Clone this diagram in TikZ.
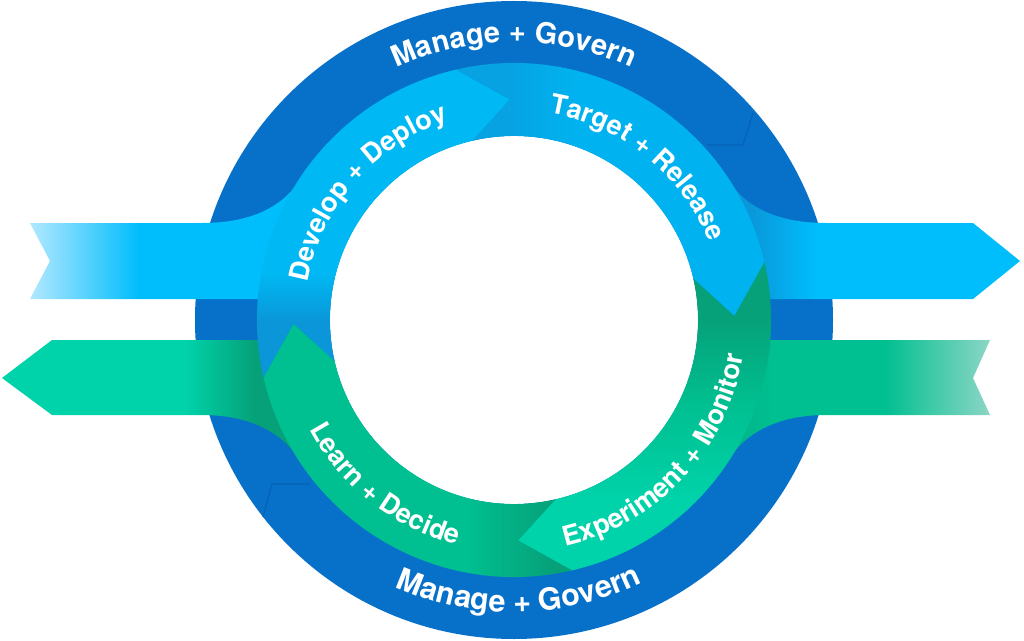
\documentclass[tikz,border=0pt]{standalone}
\usepackage{fontspec}
\setmainfont{TeX Gyre Heros}
\usetikzlibrary{decorations.text}
\definecolor{RingBlue}{HTML}{0771CA}
\definecolor{GhostBlue}{HTML}{0562B4}
\definecolor{CyanBright}{HTML}{00BDFC}
\definecolor{CyanPale}{HTML}{B2E8FF}
\definecolor{CyanBand}{HTML}{00B8F3}
\definecolor{CyanDeep}{HTML}{0A96D8}
\definecolor{TargetCyan}{HTML}{00B3F0}
\definecolor{TargetDark}{HTML}{07A2E2}
\definecolor{TealBright}{HTML}{00D3AA}
\definecolor{GreenMid}{HTML}{00BF90}
\definecolor{GreenRib}{HTML}{03AE84}
\definecolor{GreenDark}{HTML}{06A179}
\definecolor{GreenPale}{HTML}{8BD6C5}
% ribbon shadings (bounding box = 25bp..75bp)
\pgfdeclarehorizontalshading{inCyan}{100bp}{color(0bp)=(CyanPale); color(25bp)=(CyanPale); color(44bp)=(CyanBright); color(100bp)=(CyanBright)}
\pgfdeclarehorizontalshading{outCyan}{100bp}{color(0bp)=(CyanDeep); color(31bp)=(CyanDeep); color(42bp)=(CyanBright); color(100bp)=(CyanBright)}
\pgfdeclarehorizontalshading{outGreen}{100bp}{color(0bp)=(TealBright); color(54bp)=(TealBright); color(65bp)=(GreenDark); color(100bp)=(GreenDark)}
\pgfdeclarehorizontalshading{inGreen}{100bp}{color(0bp)=(GreenRib); color(25bp)=(GreenRib); color(36bp)=(GreenMid); color(56bp)=(GreenMid); color(75bp)=(GreenPale); color(100bp)=(GreenPale)}
% band shadings
\pgfdeclareverticalshading{developShade}{100bp}{color(0bp)=(CyanDeep); color(34bp)=(CyanDeep); color(42bp)=(CyanBand); color(100bp)=(CyanBand)}
\pgfdeclarehorizontalshading{targetShade}{100bp}{color(0bp)=(TargetDark); color(33bp)=(TargetDark); color(45bp)=(TargetCyan); color(100bp)=(TargetCyan)}
\pgfdeclareverticalshading{experimentShade}{100bp}{color(0bp)=(TealBright); color(36bp)=(TealBright); color(52bp)=(GreenMid); color(66bp)=(GreenDark); color(100bp)=(GreenDark)}
\pgfdeclarehorizontalshading{learnShade}{100bp}{color(0bp)=(GreenMid); color(58bp)=(GreenMid); color(72bp)=(GreenDark); color(100bp)=(GreenDark)}
\newcommand{\rOut}{257}
\newcommand{\rIn}{184}
\newcommand{\rMid}{220.5}
\newcommand{\ringfont}{\fontsize{29}{30}\selectfont\bfseries}
\newcommand{\lowringfont}{\fontsize{30.5}{31}\selectfont\bfseries}
\newcommand{\bandfont}{\fontsize{27}{28}\selectfont\bfseries}
% one quarter of the band: back notch at #1, arrow tip 102 degrees further on
\newcommand{\bandpart}[2]{%
  \pgfmathsetmacro\endA{#1-90}
  \pgfmathsetmacro\tipA{#1-102}
  \pgfmathsetmacro\notchA{#1-12}
  \shade[shading=#2] (#1:\rOut) arc[start angle=#1, end angle=\endA, radius=\rOut]
    -- (\tipA:\rMid) -- (\endA:\rIn) arc[start angle=\endA, end angle=#1, radius=\rIn]
    -- (\notchA:\rMid) -- cycle;
}
\tikzset{ringtext/.style={decorate, decoration={text along path, text align=center,
  text color=white, text={#1}}}}

\begin{document}
\begin{tikzpicture}[x=1pt, y=1pt]
\useasboundingbox (-514,-320) rectangle (510,320);

% ================= OUTER RING =================
\fill[RingBlue] (0,0) circle (319);
\fill[white] (0,0) circle (\rIn);
\draw[GhostBlue, line width=1.2pt] (239,207) -- (229,175) -- (193,175);
\draw[GhostBlue, line width=1.2pt] (-204,-164) -- (-242,-164) -- (-251,-197);

% ================= RIBBONS =================
% in (top left)
\shade[shading=inCyan] (-484,97) -- (-312,97) .. controls (-262,97) and (-231,114) .. (147:256)
  -- (147:235) -- (-235,21) -- (-484,21) -- (-464,59) -- cycle;
% out (top right)
\shade[shading=outCyan] (33:235) -- (33:256) .. controls (231,114) and (262,97) .. (312,97)
  -- (459,97) -- (506,59) -- (459,21) -- (235,21) -- cycle;
% out (bottom left)
\shade[shading=outGreen] (-235,-20) -- (-462,-20) -- (-512,-58) -- (-462,-95) -- (-312,-95)
  .. controls (-262,-95) and (-231,-114) .. (213:256) -- (213:235) -- cycle;
% in (bottom right)
\shade[shading=inGreen] (235,-20) -- (476,-20) -- (459,-58) -- (476,-95) -- (312,-95)
  .. controls (262,-95) and (231,-114) .. (-33:256) -- (-33:235) -- cycle;

% ================= BAND =================
\bandpart{193}{developShade}
\bandpart{103}{targetShade}
\bandpart{13}{experimentShade}
\bandpart{-77}{learnShade}

% ================= LABELS =================
\path[ringtext={|\ringfont|Manage + Govern}] (135:278) arc[start angle=135, end angle=45, radius=278];
\path[ringtext={|\lowringfont|Manage + Govern}] (-134:292) arc[start angle=-134, end angle=-44, radius=292];
\path[ringtext={|\bandfont|Develop + Deploy}] (180:210) arc[start angle=180, end angle=98, radius=210];
\path[ringtext={|\bandfont|Target + Release}] (92:210) arc[start angle=92, end angle=10, radius=210];
\path[ringtext={|\bandfont|Experiment + Monitor}] (-84:232) arc[start angle=-84, end angle=-2, radius=232];
\path[ringtext={|\bandfont|Learn + Decide}] (191:232) arc[start angle=191, end angle=273, radius=232];

\end{tikzpicture}
\end{document}
